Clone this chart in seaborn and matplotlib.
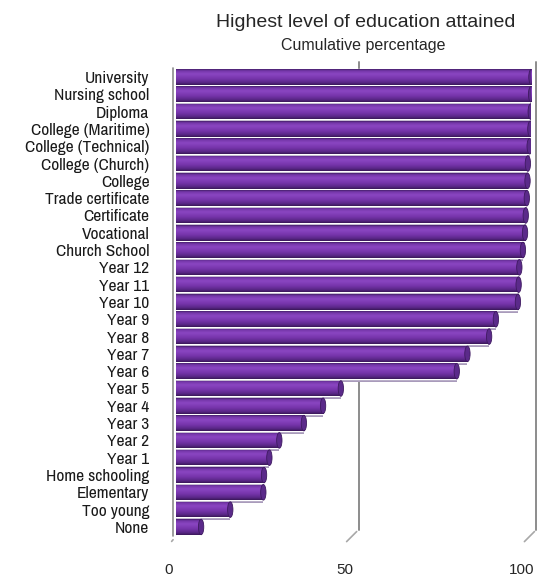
import numpy as np
import pandas as pd
import matplotlib
matplotlib.use('Agg')
import matplotlib.pyplot as plt
import matplotlib.transforms as mtransforms
from matplotlib import font_manager
from matplotlib.colors import LinearSegmentedColormap
from matplotlib.patches import Ellipse, Rectangle
import seaborn as sns

# === data (cumulative percentage) ===
categories = ['University', 'Nursing school', 'Diploma', 'College (Maritime)',
              'College (Technical)', 'College (Church)', 'College', 'Trade certificate',
              'Certificate', 'Vocational', 'Church School', 'Year 12', 'Year 11',
              'Year 10', 'Year 9', 'Year 8', 'Year 7', 'Year 6', 'Year 5', 'Year 4',
              'Year 3', 'Year 2', 'Year 1', 'Home schooling', 'Elementary',
              'Too young', 'None']
cum_pct = [100.0, 99.9, 99.8, 99.7, 99.5, 99.0, 98.9, 98.7, 98.4, 98.2, 97.6,
           96.6, 96.4, 96.2, 90.0, 88.1, 82.0, 79.0, 46.4, 41.4, 36.0, 29.1,
           26.3, 24.8, 24.6, 15.3, 7.1]
x_ticks = [0, 50, 100]

df = pd.DataFrame({'level': categories, 'pct': cum_pct})

sns.set_style('white')
plt.rcParams['font.family'] = ['Liberation Sans', 'DejaVu Sans']

# the labels in the original are a narrow face -- use one if there is any
narrow = None
for f in font_manager.fontManager.ttflist:
    if 'Narrow' in f.name or 'Condensed' in f.name:
        narrow = f.name
        break
label_family = [narrow, 'Liberation Sans'] if narrow else ['Liberation Sans']
label_size = 12.5 if narrow else 10.5

PX = 72 / 100  # points per pixel at dpi 100

fig = plt.figure(figsize=(5.53, 5.79), dpi=100)
ax = fig.add_axes([0.318, 0.075, 0.643, 0.807])

sns.barplot(data=df, x='pct', y='level', orient='h', color='#7535a8',
            width=0.9, ax=ax, zorder=3)

# cylinder look: gradient inside each bar, grey shadow underneath, end cap
grad = LinearSegmentedColormap.from_list('cyl', [
    (0.0, '#45206a'), (0.1, '#7436a8'), (0.3, '#8a46c2'),
    (0.6, '#7735ac'), (0.85, '#5a2788'), (1.0, '#3a1858')])
g = np.linspace(0, 1, 64).reshape(-1, 1)
shadow_tr = ax.transData + mtransforms.ScaledTranslation(0, -3 * PX / 72, fig.dpi_scale_trans)
for p in list(ax.patches):
    x0, y0, w, h = p.get_x(), p.get_y(), p.get_width(), p.get_height()
    sh = Rectangle((x0, y0), w, h, transform=shadow_tr, color='#a99bbb', zorder=2, lw=0)
    ax.add_patch(sh)
    im = ax.imshow(g, cmap=grad, aspect='auto', extent=(x0, x0 + w, y0 + h, y0),
                   origin='upper', zorder=4, interpolation='bilinear')
    im.set_clip_path(p)
    cap = Ellipse((x0 + w, y0 + h / 2), 1.5, h, facecolor='#5b2a8a',
                  edgecolor='#3e1a60', lw=0.6, zorder=5)
    ax.add_patch(cap)

ax.set_xlim(0, 100)
ax.set_ylim(len(categories) - 0.5, -0.5)


def shift(dx_px, dy_px):
    return mtransforms.ScaledTranslation(dx_px * PX / 72, dy_px * PX / 72, fig.dpi_scale_trans)


# back wall gridlines (shifted for the 3D depth) with little floor feet
blend = mtransforms.blended_transform_factory(ax.transData, ax.transAxes)
back = blend + shift(5, 6)
for v in x_ticks[1:]:
    ax.plot([v, v], [0.0, 1.0], transform=back, color='#8c8c8c', lw=1.4,
            zorder=1, clip_on=False)
    ax.annotate('', xy=(v, 0), xycoords=blend + shift(-9, -8), xytext=(v, 0), textcoords=back,
                arrowprops=dict(arrowstyle='-', color='#a8a8a8', lw=1.2))
# left wall
ax.plot([0, 0], [0.0, 1.0], transform=blend + shift(-3, 0),
        color='#8c8c8c', lw=1.2, zorder=1, clip_on=False)
ax.annotate('', xy=(0, 0), xycoords=blend + shift(-6, -8), xytext=(0, 0),
            textcoords=blend + shift(-1, -2),
            arrowprops=dict(arrowstyle='-', color='#a8a8a8', lw=1.2))

for s in ax.spines.values():
    s.set_visible(False)

ax.set_xlabel('')
ax.set_ylabel('')
ax.set_xticks(x_ticks)
ax.set_xticklabels([str(v) for v in x_ticks], fontsize=11)
ax.tick_params(axis='x', length=0, pad=20)
# front edge of the floor sits a little left of the bars (perspective)
for v, t in zip(x_ticks, ax.get_xticklabels()):
    t.set_transform(t.get_transform() + shift(-7 - 0.03 * v, 0))
ax.tick_params(axis='y', which='major', length=0, pad=19, labelsize=label_size)
for t in ax.get_yticklabels():
    t.set_family(label_family)
    t.set_color('#1a1a1a')
ax.set_yticks(np.arange(-0.5, len(categories), 1), minor=True)
ax.tick_params(axis='y', which='minor', length=6, width=1, color='#8c8c8c',
               direction='out', pad=2)

fig.text(0.661, 0.962, 'Highest level of education attained', ha='center', va='center',
         fontsize=14)
fig.text(0.657, 0.922, 'Cumulative percentage', ha='center', va='center',
         fontsize=11.5)

fig.savefig('out.png', dpi=100)
